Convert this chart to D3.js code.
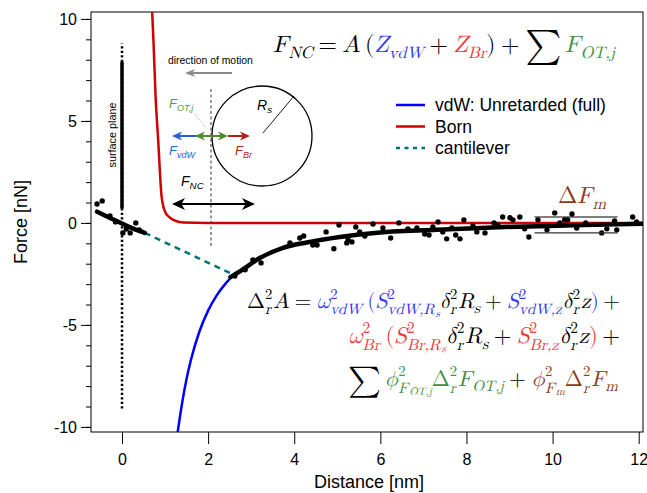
<!DOCTYPE html>
<html>
<head>
<meta charset="utf-8">
<script src="https://cdn.jsdelivr.net/npm/d3@7"></script>
<style>
  body { margin: 0; background: #fff; }
  svg { display: block; }
</style>
</head>
<body>
<svg id="chart" width="647" height="493"></svg>
<script>
// ---- data ----
var xTicks = [0, 2, 4, 6, 8, 10, 12];
var yTicks = [-10, -5, 0, 5, 10];

// Born repulsion
var bornX = [0.70, 0.73, 0.78, 0.84, 0.92, 1.00, 1.10, 1.19, 1.42, 2.0, 12.1];
var bornF = [10.34, 8.97, 6.2, 4.07, 1.29, 0.55, 0.28, 0.15, 0.02, 0, 0];

// vdW unretarded
var vdwX = [1.29, 1.35, 1.40, 1.50, 1.60, 1.80, 2.00, 2.20, 2.40, 2.60];
var vdwF = [-10.3, -9.44, -8.78, -7.64, -6.72, -5.31, -4.30, -3.55, -2.99, -2.54];

// cantilever jump
var cantX = [0.53, 2.52];
var cantF = [-0.49, -2.47];

// measured curve (thick black)
var leftX = [-0.58, -0.30, 0.00, 0.25, 0.53];
var leftF = [0.55, 0.27, -0.03, -0.27, -0.49];
var fitX = [2.52, 2.79, 3.20, 3.74, 4.29, 5.06, 5.87, 7.31, 8.89, 10.5, 12.1];
var fitF = [-2.66, -2.30, -1.72, -1.22, -0.96, -0.69, -0.49, -0.34, -0.20, -0.12, -0.04];

// scattered measurement points
var dotX = [-0.58, -0.46, -0.28, -0.15, 0.02, 0.10, 0.19, 0.32, 0.40,
  2.62, 2.86, 3.04, 3.23, 3.90, 4.13, 4.22, 4.43, 4.53, 4.74, 4.92, 5.04, 5.22, 5.25, 5.34,
  5.43, 5.52, 5.64, 5.83, 6.06, 6.24, 6.43, 6.64, 6.85, 7.03, 7.13, 7.22, 7.34, 7.45,
  7.54, 7.66, 7.75, 7.85, 7.94, 8.15, 8.24, 8.43, 8.64, 8.73, 8.84, 9.01, 9.08, 9.24,
  9.35, 9.45, 9.66, 9.87, 10.05, 10.17, 10.28, 10.35, 10.45, 10.56, 10.77, 11.14,
  11.26, 11.44, 11.49, 11.86, 11.95];
var dotF = [0.93, 1.08, 0.34, 0.05, -0.49, -0.30, -0.49, 0.00, -0.35,
  -2.60, -2.30, -1.81, -1.96, -0.98, -0.74, -0.64, -1.08, -1.08, -0.44, -1.27, -0.10, -0.98, -0.83, -0.93,
  -0.20, -0.44, -0.64, -0.05, -0.25, -0.74, 0.00, -0.29, -0.25, -0.54, -0.59, -0.20, 0.05, -0.44,
  -0.78, -0.25, -0.59, -0.78, 0.15, -0.15, -0.44, -0.49, 0.00, -0.10, 0.29, 0.25, 0.15, 0.29,
  -0.29, -0.69, 0.15, -0.34, 0.49, 0.00, 0.15, 0.15, 0.44, -0.25, 0.00, -0.49,
  -0.29, 0.10, -0.34, 0.29, 0.05];

// measurement band (Delta F_m)
var bandX = [9.58, 11.51];
var bandF = [0.29, -0.49];

// surface plane marker
var surfDotted = [-9.1, 8.8];
var surfSolid = [0.7, 7.9];

var legendNames = ['vdW: Unretarded (full)', 'Born', 'cantilever'];
var legendColors = ['#0000ff', '#d00000', '#007474'];

// ---- setup ----
var svg = d3.select('#chart');
var x = d3.scaleLinear().domain([-0.72, 12.1]).range([91, 643]);
var y = d3.scaleLinear().domain([-10.25, 10.34]).range([432, 12]);
var sans = "'Liberation Sans', Arial, sans-serif";
var serif = "'Latin Modern Math', 'Liberation Serif', serif";

svg.append('clipPath').attr('id', 'plot')
  .append('rect').attr('x', 91).attr('y', 12).attr('width', 552).attr('height', 420);

function pts(xs, fs) {
  return xs.map(function(d, i) { return [d, fs[i]]; });
}
var line = d3.line()
  .x(function(d) { return x(d[0]); })
  .y(function(d) { return y(d[1]); })
  .curve(d3.curveMonotoneX);

/* axes */
var yMinor = svg.append('g').attr('transform', 'translate(91,0)')
  .call(d3.axisLeft(y).ticks(20).tickSize(5).tickSizeOuter(0).tickFormat(''));
yMinor.select('.domain').remove();

var yAxis = svg.append('g').attr('transform', 'translate(91,0)')
  .call(d3.axisLeft(y).tickValues(yTicks).tickSize(10).tickSizeOuter(0).tickPadding(4)
    .tickFormat(function(d) { return String(d); }));
yAxis.select('.domain').remove();

var xAxis = svg.append('g').attr('transform', 'translate(0,432)')
  .call(d3.axisBottom(x).tickValues(xTicks).tickSize(12).tickSizeOuter(0).tickPadding(10)
    .tickFormat(function(d) { return String(d); }));
xAxis.select('.domain').remove();

svg.selectAll('.tick text').attr('font-family', sans).attr('font-size', 16).attr('fill', '#000');
svg.selectAll('.tick line').attr('stroke', '#000');

svg.append('rect').attr('x', 91).attr('y', 12).attr('width', 552).attr('height', 420)
  .attr('fill', 'none').attr('stroke', '#000').attr('stroke-width', 1);

svg.append('text').attr('transform', 'translate(27,222) rotate(-90)')
  .attr('text-anchor', 'middle').attr('font-family', sans).attr('font-size', 18)
  .text('Force [nN]');
svg.append('text').attr('x', 369).attr('y', 488)
  .attr('text-anchor', 'middle').attr('font-family', sans).attr('font-size', 18)
  .text('Distance [nm]');

/* plot content */
var plot = svg.append('g').attr('clip-path', 'url(#plot)');

// surface plane
plot.append('line')
  .attr('x1', x(0)).attr('x2', x(0)).attr('y1', y(surfDotted[0])).attr('y2', y(surfDotted[1]))
  .attr('stroke', '#000').attr('stroke-width', 2.5).attr('stroke-dasharray', '2.2,2.3');
plot.append('line')
  .attr('x1', x(0)).attr('x2', x(0)).attr('y1', y(surfSolid[0])).attr('y2', y(surfSolid[1]))
  .attr('stroke', '#000').attr('stroke-width', 3.5);

plot.append('path').datum(pts(vdwX, vdwF)).attr('d', line)
  .attr('fill', 'none').attr('stroke', legendColors[0]).attr('stroke-width', 2.5);
plot.append('path').datum(pts(bornX, bornF)).attr('d', line)
  .attr('fill', 'none').attr('stroke', legendColors[1]).attr('stroke-width', 2.5);
plot.append('path').datum(pts(cantX, cantF)).attr('d', line)
  .attr('fill', 'none').attr('stroke', legendColors[2]).attr('stroke-width', 2.5)
  .attr('stroke-dasharray', '6,5');

[pts(leftX, leftF), pts(fitX, fitF)].forEach(function(p) {
  plot.append('path').datum(p).attr('d', line)
    .attr('fill', 'none').attr('stroke', '#000').attr('stroke-width', 4.5)
    .attr('stroke-linecap', 'round').attr('stroke-linejoin', 'round');
});

plot.selectAll('circle.dot').data(pts(dotX, dotF)).enter()
  .append('circle').attr('class', 'dot')
  .attr('cx', function(d) { return x(d[0]); })
  .attr('cy', function(d) { return y(d[1]); })
  .attr('r', 2.7).attr('fill', '#000');

// band lines
bandF.forEach(function(f, i) {
  plot.append('line').attr('x1', x(bandX[0])).attr('x2', x(bandX[1]))
    .attr('y1', y(f)).attr('y2', y(f))
    .attr('stroke', i === 0 ? '#000' : '#333').attr('stroke-width', 1.1);
});

/* legend */
legendNames.forEach(function(name, i) {
  var ly = 105 + i * 21.5;
  svg.append('line').attr('x1', 396).attr('x2', 425).attr('y1', ly).attr('y2', ly)
    .attr('stroke', legendColors[i]).attr('stroke-width', 2.5)
    .attr('stroke-dasharray', i === 2 ? '4,4.5' : null);
  svg.append('text').attr('x', 435).attr('y', ly).attr('dy', '0.35em')
    .attr('font-family', sans).attr('font-size', 17.5).text(name);
});

/* inset diagram */
function head(g, tx, ty, dir, len, wid, col) {
  var bx = tx - dir * len;
  g.append('path')
    .attr('d', 'M' + tx + ',' + ty + 'L' + bx + ',' + (ty - wid / 2) + 'L' + (tx - dir * len * 0.72) + ',' + ty +
      'L' + bx + ',' + (ty + wid / 2) + 'Z')
    .attr('fill', col);
}
function hline(g, x1, x2, yy, col, w) {
  g.append('line').attr('x1', x1).attr('x2', x2).attr('y1', yy).attr('y2', yy)
    .attr('stroke', col).attr('stroke-width', w);
}
var ins = svg.append('g');

ins.append('text').attr('transform', 'translate(116,135) rotate(-90)')
  .attr('text-anchor', 'middle').attr('font-family', sans).attr('font-size', 10.8)
  .text('surface plane');

ins.append('text').attr('x', 168).attr('y', 64).attr('font-family', sans).attr('font-size', 10.4)
  .text('direction of motion');
hline(ins, 192, 232, 73, '#8a8a8a', 2);
head(ins, 185, 73, -1, 10, 8, '#8a8a8a');

ins.append('line').attr('x1', 211).attr('x2', 211).attr('y1', 89).attr('y2', 246)
  .attr('stroke', '#333').attr('stroke-width', 1).attr('stroke-dasharray', '3,2.5');

ins.append('circle').attr('cx', 262).attr('cy', 136).attr('r', 50)
  .attr('fill', 'none').attr('stroke', '#000').attr('stroke-width', 1.3);
ins.append('line').attr('x1', 263).attr('y1', 133).attr('x2', 294).attr('y2', 96)
  .attr('stroke', '#000').attr('stroke-width', 0.9);

var cBlue = '#2a5fd8', cGreen = '#4f8c2e', cRed = '#b3201c';
hline(ins, 178, 197, 136, cBlue, 2);
head(ins, 172, 136, -1, 10, 9, cBlue);
hline(ins, 200, 222, 136, cGreen, 2);
head(ins, 195, 136, -1, 10, 9, cGreen);
head(ins, 228, 136, 1, 10, 9, cGreen);
hline(ins, 228, 244, 136, cRed, 2);
head(ins, 250, 136, 1, 10, 9, cRed);

ins.append('line').attr('x1', 195).attr('y1', 114).attr('x2', 206).attr('y2', 128)
  .attr('stroke', '#9fc08f').attr('stroke-width', 1).attr('stroke-dasharray', '1.5,1.5');

hline(ins, 180, 247, 204, '#000', 2.2);
head(ins, 172, 204, -1, 13, 12, '#000');
head(ins, 255, 204, 1, 13, 12, '#000');

function sansLabel(tx, ty, main, sub, col, size) {
  var t = ins.append('text').attr('x', tx).attr('y', ty).attr('font-family', sans)
    .attr('font-style', 'italic').attr('font-size', size).attr('fill', col).text(main);
  t.append('tspan').attr('font-size', size * 0.7).attr('dy', size * 0.22).text(sub);
}
sansLabel(169, 108, 'F', 'OT,j', '#5c9a3c', 13);
sansLabel(169, 155, 'F', 'vdW', cBlue, 13);
sansLabel(235, 155, 'F', 'Br', cRed, 13);
sansLabel(181, 186, 'F', 'NC', '#000', 14);
sansLabel(257, 110, 'R', 's', '#000', 14);

/* math annotations */
function mathRow(g, toks, fs) {
  var cx = 0;
  function put(txt, size, dy, italic, col) {
    var t = g.append('text').attr('x', cx).attr('y', dy).attr('font-family', serif)
      .attr('font-size', size).attr('font-style', italic ? 'italic' : 'normal')
      .attr('fill', col).text(txt);
    return t.node().getComputedTextLength();
  }
  toks.forEach(function(tk) {
    var txt = tk[0], kind = tk[1], col = tk[2] || '#000';
    if (kind === 'i') cx += put(txt, fs, 0, true, col);
    else if (kind === 'r') cx += put(txt, fs, 0, false, col);
    else if (kind === 'op') { cx += fs * 0.24; cx += put(txt, fs, 0, false, col); cx += fs * 0.24; }
    else if (kind === 'big') { cx += put(txt, fs * 1.45, fs * 0.18, false, col); cx += fs * 0.15; }
    else if (kind === 'sub') cx += put(txt, fs * 0.7, fs * 0.25, true, col);
    else if (kind === 'sub2') cx += put(txt, fs * 0.5, fs * 0.4, true, col);
    else if (kind === 'ss') {
      var p = txt.split('|');
      var w1 = put(p[0], fs * 0.68, -fs * 0.44, false, col);
      var w2 = put(p[1], fs * 0.7, fs * 0.3, true, col);
      cx += Math.max(w1, w2) + fs * 0.04;
    }
    else if (kind === 'sp') cx += fs * 0.2;
  });
  return cx;
}
function placeMath(toks, fs, left, right, base) {
  var g = svg.append('g');
  var w = mathRow(g, toks, fs);
  var s = (right - left) / w;
  g.attr('transform', 'translate(' + left + ',' + base + ') scale(' + s + ')');
}

var mB = '#3434f2', mR = '#f03838', mG = '#3f8f3f', mBr = '#8c3a17';

placeMath([['F', 'i'], ['NC', 'sub'], ['=', 'op'], ['A', 'i'], ['', 'sp'], ['(', 'r'], ['Z', 'i', mB], ['vdW', 'sub', mB],
  ['+', 'op'], ['Z', 'i', mR], ['Br', 'sub', mR], [')', 'r'], ['+', 'op'], ['\u2211', 'big'],
  ['F', 'i', mG], ['OT,j', 'sub', mG]], 22, 273, 615, 52);

placeMath([['\u0394', 'r'], ['2|r', 'ss'], ['A', 'i'], ['=', 'op'], ['\u03C9', 'i', mB], ['2|vdW', 'ss', mB], ['', 'sp'],
  ['(', 'r', mB], ['S', 'i', mB], ['2|vdW,R', 'ss', mB], ['s', 'sub2', mB], ['\u03B4', 'i'], ['2|r', 'ss'],
  ['R', 'i'], ['s', 'sub'], ['+', 'op'], ['S', 'i', mB], ['2|vdW,z', 'ss', mB], ['\u03B4', 'i'], ['2|r', 'ss'],
  ['z', 'i'], [')', 'r', mB], ['', 'sp'], ['+', 'r']], 18, 247, 620, 308);

placeMath([['\u03C9', 'i', mR], ['2|Br', 'ss', mR], ['', 'sp'], ['(', 'r', mR], ['S', 'i', mR], ['2|Br,R', 'ss', mR],
  ['s', 'sub2', mR], ['\u03B4', 'i'], ['2|r', 'ss'], ['R', 'i'], ['s', 'sub'], ['+', 'op'], ['S', 'i', mR],
  ['2|Br,z', 'ss', mR], ['\u03B4', 'i'], ['2|r', 'ss'], ['z', 'i'], [')', 'r', mR], ['', 'sp'], ['+', 'r']],
  18, 348, 620, 343);

placeMath([['\u2211', 'big'], ['\u03D5', 'i', mG], ['2|F', 'ss', mG], ['OT,j', 'sub2', mG], ['\u0394', 'r', mG],
  ['2|r', 'ss', mG], ['F', 'i', mG], ['OT,j', 'sub', mG], ['+', 'op'], ['\u03D5', 'i', mBr], ['2|F', 'ss', mBr],
  ['m', 'sub2', mBr], ['\u0394', 'r', mBr], ['2|r', 'ss', mBr], ['F', 'i', mBr], ['m', 'sub', mBr]],
  18, 348, 618, 386);

placeMath([['\u0394', 'r', mBr], ['F', 'i', mBr], ['m', 'sub', mBr]], 21, 558, 606, 203);
</script>
</body>
</html>
